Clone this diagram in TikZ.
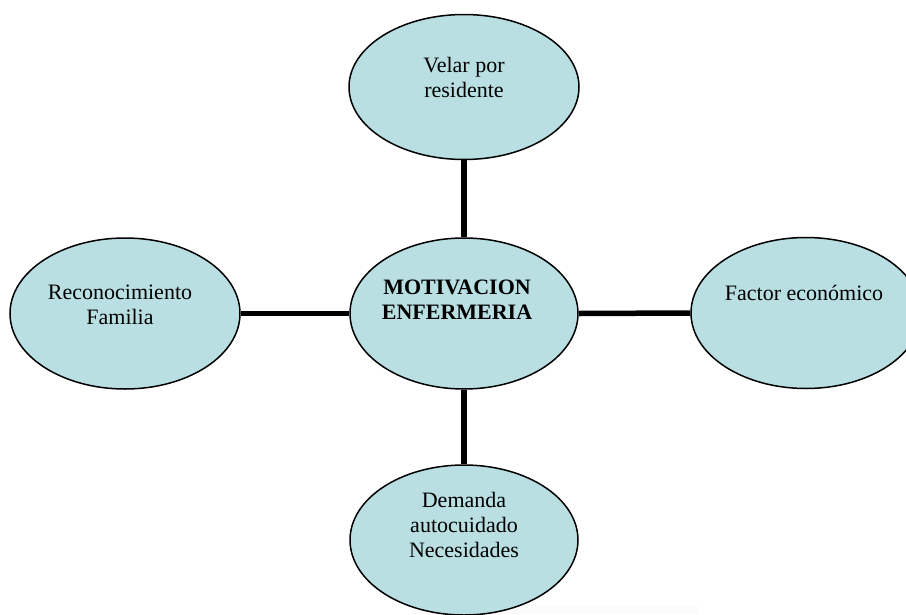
\documentclass[tikz,border=0pt]{standalone}
\usepackage{fontspec}
\setmainfont{Liberation Serif}
\usetikzlibrary{shapes.geometric}
\definecolor{bubble}{RGB}{185,223,227}
\tikzset{
  bub/.style={ellipse, draw=black, line width=1.5pt, fill=bubble, inner sep=0pt},
  lbl/.style={align=center, inner sep=0pt, font=\fontsize{22}{25}\selectfont},
  conn/.style={line width=5.5pt, draw=black},
}
\begin{document}
\begin{tikzpicture}[x=1pt,y=-1pt]
\useasboundingbox (0,0) rectangle (906,614);
\clip (0,0) rectangle (906,614);
\fill[black!1.5] (413,605) rectangle (697,614);
\node[bub, minimum width=230pt, minimum height=145pt] (top) at (464,87) {};
\node[bub, minimum width=228pt, minimum height=151pt] (mid) at (464,313.5) {};
\node[bub, minimum width=230pt, minimum height=151pt] (left) at (125,313.5) {};
\node[bub, minimum width=230pt, minimum height=151pt] (right) at (806,313) {};
\node[bub, minimum width=228pt, minimum height=150pt] (bot) at (464,540) {};
\draw[conn] (top.south) -- (mid.north);
\draw[conn] (mid.south) -- (bot.north);
\draw[conn] (left.east) -- (mid.west);
\draw[conn] (mid.east) -- (right.west);
\node[lbl] (ttop) at (464,77) {Velar por\\residente};
\node[lbl, font=\fontsize{22}{25}\selectfont\bfseries] (tmid) at (457,300) {MOTIVACION\\ENFERMERIA};
\node[lbl] (tleft) at (120,305) {Reconocimiento\\Familia};
\node[lbl] (tright) at (804,293) {Factor económico};
\node[lbl] (tbot) at (464,525) {Demanda\\autocuidado\\Necesidades};
\end{tikzpicture}
\end{document}
